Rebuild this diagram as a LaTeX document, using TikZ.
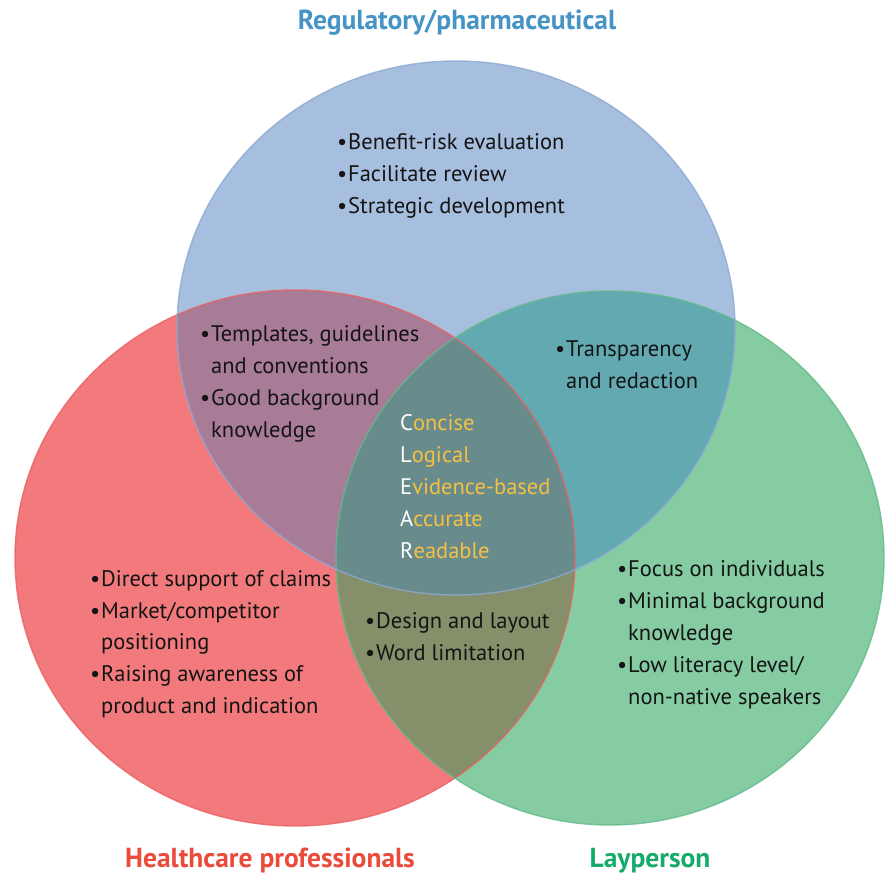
\documentclass[tikz,border=0pt]{standalone}
\usepackage{fontspec}
\setmainfont{PT Sans}
\begin{document}
\begin{tikzpicture}[x=1pt,y=-1pt,
  body/.style={font=\fontsize{22.5}{26}\selectfont, inner sep=0pt, anchor=base west, text=black!92},
  clear/.style={font=\fontsize{22.5}{26}\selectfont, inner sep=0pt, anchor=base west, text=gold},
  titletext/.style={font=\bfseries\fontsize{27.5}{32}\selectfont, inner sep=0pt, anchor=base},
  outline/.style={line width=1.4pt, draw opacity=0.8}]
\definecolor{cblue}{HTML}{A7BFDF}
\definecolor{cred}{HTML}{F37A7C}
\definecolor{cgreen}{HTML}{86CCA3}
\definecolor{crb}{HTML}{A87C97}
\definecolor{cbg}{HTML}{62A9B2}
\definecolor{crg}{HTML}{85906A}
\definecolor{call}{HTML}{688B8C}
\definecolor{oblue}{HTML}{8DA8D4}
\definecolor{ored}{HTML}{E96062}
\definecolor{ogreen}{HTML}{62BA8B}
\definecolor{gold}{HTML}{F5C043}
\definecolor{tblue}{HTML}{4693C6}
\definecolor{tred}{HTML}{EA4B3B}
\definecolor{tgreen}{HTML}{16AB6B}
\useasboundingbox (0,0) rectangle (885,874);
\fill[white] (0,0) rectangle (885,874);
\def\ElB{(456,328) ellipse [x radius=279pt, y radius=267pt]}
\def\ElR{(295,558) ellipse [x radius=280pt, y radius=268pt]}
\def\ElG{(610,558) ellipse [x radius=274pt, y radius=267pt]}
% base fills
\fill[cred] \ElR;
\fill[cgreen] \ElG;
\fill[cblue] \ElB;
% pairwise overlaps
\begin{scope}\clip \ElR; \fill[crb] \ElB; \end{scope}
\begin{scope}\clip \ElB; \fill[cbg] \ElG; \end{scope}
\begin{scope}\clip \ElR; \fill[crg] \ElG; \end{scope}
\begin{scope}\clip \ElR; \clip \ElB; \fill[call] \ElG; \end{scope}
% outlines
\draw[outline, ored] \ElR;
\draw[outline, ogreen] \ElG;
\draw[outline, oblue] \ElB;
% titles
\node[titletext, text=tblue] (treg) at (457,30) {Regulatory/pharmaceutical};
\node[titletext, text=tred] (thcp) at (270,867) {Healthcare professionals};
\node[titletext, text=tgreen] (tlay) at (650,867) {Layperson};
% regulatory
\node[body] (b1) at (337,150) {\makebox[11pt][l]{•}Benefit-risk evaluation};
\node[body] (b2) at (337,182) {\makebox[11pt][l]{•}Facilitate review};
\node[body] (b3) at (337,214) {\makebox[11pt][l]{•}Strategic development};
% red-blue
\node[body] (rb1) at (200,341) {\makebox[11pt][l]{•}Templates, guidelines};
\node[body] (rb2) at (211,373) {and conventions};
\node[body] (rb3) at (200,405) {\makebox[11pt][l]{•}Good background};
\node[body] (rb4) at (211,437) {knowledge};
% blue-green
\node[body] (bg1) at (555,356) {\makebox[11pt][l]{•}Transparency};
\node[body] (bg2) at (566,388) {and redaction};
% centre
\node[clear] (c1) at (400,430) {\textcolor{white}{C}oncise};
\node[clear] (c2) at (400,462) {\textcolor{white}{L}ogical};
\node[clear] (c3) at (400,494) {\textcolor{white}{E}vidence-based};
\node[clear] (c4) at (400,526) {\textcolor{white}{A}ccurate};
\node[clear] (c5) at (400,558) {\textcolor{white}{R}eadable};
% red
\node[body] (r1) at (90,586) {\makebox[11pt][l]{•}Direct support of claims};
\node[body] (r2) at (90,618) {\makebox[11pt][l]{•}Market/competitor};
\node[body] (r3) at (101,649) {positioning};
\node[body] (r4) at (90,681) {\makebox[11pt][l]{•}Raising awareness of};
\node[body] (r5) at (101,713) {product and indication};
% red-green
\node[body] (rg1) at (365,628) {\makebox[11pt][l]{•}Design and layout};
\node[body] (rg2) at (365,660) {\makebox[11pt][l]{•}Word limitation};
% green
\node[body] (g1) at (617,576) {\makebox[11pt][l]{•}Focus on individuals};
\node[body] (g2) at (617,608) {\makebox[11pt][l]{•}Minimal background};
\node[body] (g3) at (628,640) {knowledge};
\node[body] (g4) at (617,672) {\makebox[11pt][l]{•}Low literacy level/};
\node[body] (g5) at (628,704) {non-native speakers};
\end{tikzpicture}
\end{document}
